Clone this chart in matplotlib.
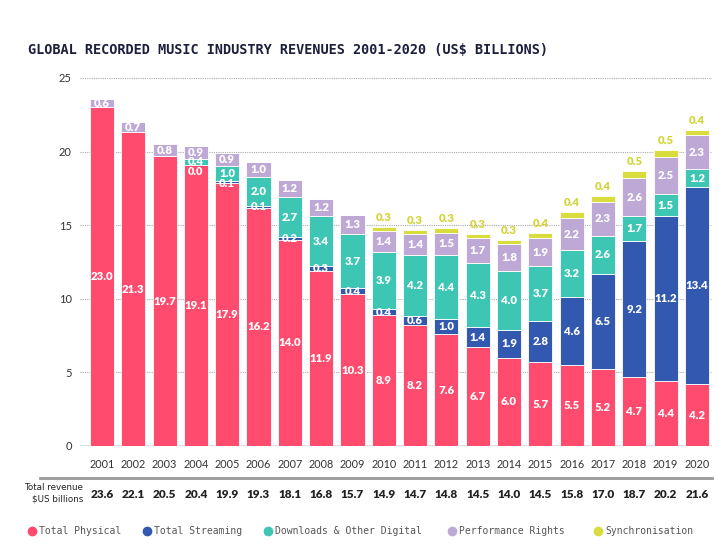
import matplotlib
matplotlib.use("Agg")
import matplotlib.pyplot as plt
from matplotlib.lines import Line2D
import numpy as np

years = ["2001", "2002", "2003", "2004", "2005", "2006", "2007", "2008", "2009", "2010",
         "2011", "2012", "2013", "2014", "2015", "2016", "2017", "2018", "2019", "2020"]
physical = [23.0, 21.3, 19.7, 19.1, 17.9, 16.2, 14.0, 11.9, 10.3, 8.9,
            8.2, 7.6, 6.7, 6.0, 5.7, 5.5, 5.2, 4.7, 4.4, 4.2]
streaming = [None, None, None, 0.0, 0.1, 0.1, 0.2, 0.3, 0.4, 0.4,
             0.6, 1.0, 1.4, 1.9, 2.8, 4.6, 6.5, 9.2, 11.2, 13.4]
downloads = [None, None, None, 0.4, 1.0, 2.0, 2.7, 3.4, 3.7, 3.9,
             4.2, 4.4, 4.3, 4.0, 3.7, 3.2, 2.6, 1.7, 1.5, 1.2]
performance = [0.6, 0.7, 0.8, 0.9, 0.9, 1.0, 1.2, 1.2, 1.3, 1.4,
               1.4, 1.5, 1.7, 1.8, 1.9, 2.2, 2.3, 2.6, 2.5, 2.3]
sync = [None, None, None, None, None, None, None, None, None, 0.3,
        0.3, 0.3, 0.3, 0.3, 0.4, 0.4, 0.4, 0.5, 0.5, 0.4]
totals = ["23.6", "22.1", "20.5", "20.4", "19.9", "19.3", "18.1", "16.8", "15.7", "14.9",
          "14.7", "14.8", "14.5", "14.0", "14.5", "15.8", "17.0", "18.7", "20.2", "21.6"]
series_names = ["Total Physical", "Total Streaming", "Downloads & Other Digital",
                "Performance Rights", "Synchronisation"]
colors = ["#ff4b6e", "#3358b0", "#3ec6b4", "#bea9d6", "#d8dc3c"]
yticks = [0, 5, 10, 15, 20, 25]

LABEL_FONT = "Lato"
MONO = "DejaVu Sans Mono"

fig = plt.figure(figsize=(7.18, 5.52), dpi=100)
ax = fig.add_axes([80 / 718, 1 - 446 / 552, (712 - 80) / 718, (446 - 78) / 552])

x = np.arange(len(years))
width = 0.77
bottom = np.zeros(len(years))
series = [physical, streaming, downloads, performance, sync]
for si, (vals, col) in enumerate(zip(series, colors)):
    v = np.array([0.0 if a is None else a for a in vals])
    ax.bar(x, v, width, bottom=bottom, color=col, edgecolor="white", linewidth=0.6, zorder=3)
    for i, a in enumerate(vals):
        if a is None:
            continue
        if si == 4:
            ax.text(x[i], bottom[i] + v[i] + 0.25, f"{a:.1f}", ha="center", va="bottom",
                    color="#d2d53a", fontsize=8.2, fontweight="heavy", family=LABEL_FONT, zorder=4)
        else:
            yc = bottom[i] + v[i] / 2
            fs = 8.2
            if a == 0:
                yc -= 0.45
                fs = 7.8
            elif a <= 0.1 and si == 1 and i == 4:
                yc -= 0.15
            ax.text(x[i], yc, f"{a:.1f}", ha="center", va="center",
                    color="white", fontsize=fs, fontweight="heavy", family=LABEL_FONT, zorder=4)
    bottom = bottom + v

ax.set_xlim(-0.70, 19.48)
ax.set_ylim(0, 25)
ax.set_yticks(yticks)
ax.set_yticklabels([str(t) for t in yticks], family=LABEL_FONT, fontsize=8, color="#333333")
ax.set_xticks(x)
ax.set_xticklabels(years, family=LABEL_FONT, fontsize=7.8, color="#333333")
ax.tick_params(axis="both", length=0)
ax.tick_params(axis="x", pad=9.5)
ax.tick_params(axis="y", pad=6)
for s in ax.spines.values():
    s.set_visible(False)
ax.grid(axis="y", color="#aaaaaa", linestyle=(0, (1, 1)), linewidth=0.8, zorder=0)
ax.axhline(0, color="#555555", linewidth=1.0, zorder=2)

# title
fig.text(28 / 718, 1 - 50 / 552, "GLOBAL RECORDED MUSIC INDUSTRY REVENUES 2001-2020 (US$ BILLIONS)",
         family=MONO, fontweight="bold", fontsize=9.75, color="#1c1f3c", va="center", ha="left")

# separator line
fig.add_artist(Line2D([40 / 718, 712 / 718], [1 - 478 / 552, 1 - 478 / 552],
                      color="#999999", linewidth=2))

# totals row
fig.text(83 / 718, 1 - 488 / 552, "Total revenue", ha="right", va="center",
         family="Liberation Sans Narrow", fontsize=6.3, color="#222222")
fig.text(83 / 718, 1 - 499 / 552, "$US billions", ha="right", va="center",
         family="Liberation Sans Narrow", fontsize=6.3, color="#222222")
for i, t in enumerate(totals):
    xd = ax.transData.transform((x[i], 0))[0]
    xf = fig.transFigure.inverted().transform((xd, 0))[0]
    fig.text(xf, 1 - 494 / 552, t, ha="center", va="center", family=LABEL_FONT,
             fontweight="heavy", fontsize=8.5, color="#222222")

# legend
leg_x = [32, 147, 268, 452, 598]
for lx, name, col in zip(leg_x, series_names, colors):
    fig.add_artist(Line2D([lx / 718], [1 - 531 / 552], marker="o", markersize=6,
                          color=col, linestyle="none"))
    fig.text((lx + 7) / 718, 1 - 531 / 552, name, family=MONO, fontsize=7, color="#555555",
             va="center", ha="left")

fig.savefig("out.png", dpi=100, facecolor="white")
